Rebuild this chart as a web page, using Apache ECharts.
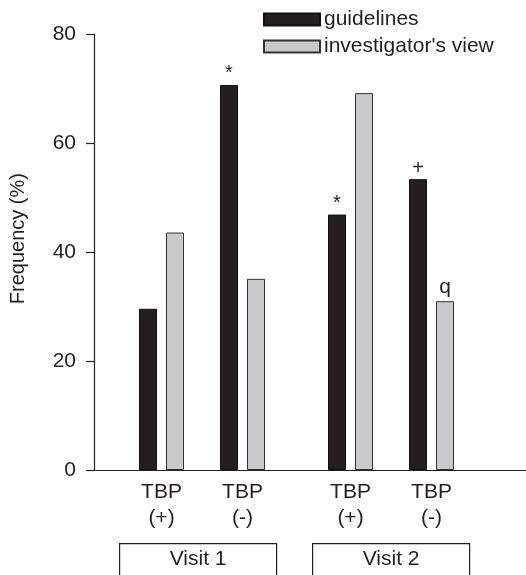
<!DOCTYPE html>
<html>
<head>
<meta charset="utf-8">
<script src="https://cdn.jsdelivr.net/npm/echarts@6/dist/echarts.min.js"></script>
<style>
  html, body { margin: 0; padding: 0; background: #fff; }
  #chart { width: 526px; height: 575px; }
</style>
</head>
<body>
<div id="chart"></div>
<script>
// x slots: blank entries are spacers between the bar pairs
const categories = ['', '', 'TBP\n(+)', '', '', 'TBP\n(-)', '', '', '', 'TBP\n(+)', '', '', 'TBP\n(-)', '', '', ''];
const guidelines = [29.6, 70.7, 46.9, 53.4];
const investigatorView = [43.6, 35.1, 69.2, 31.0];
const guidelineMarks = ['', '*', '*', '+'];
const investigatorMarks = ['', '', '', 'q'];
const visits = ['Visit 1', 'Visit 2'];
const yTicks = [0, 20, 40, 60, 80];

const ink = '#231f20';
const font = 'Liberation Sans, Arial, Helvetica, sans-serif';

// spread the values over the labelled slots
function toSlots(values, marks) {
  let k = 0;
  return categories.map(c => {
    if (!c) return '-';
    const v = { value: values[k], label: { show: !!marks[k], formatter: marks[k] } };
    k++;
    return v;
  });
}

const chart = echarts.init(document.getElementById('chart'));

chart.setOption({
  animation: false,
  textStyle: { fontFamily: font, color: ink },
  grid: { left: 94, right: -3, top: 34.3, bottom: 105, containLabel: false },
  legend: {
    orient: 'vertical',
    left: 263,
    top: 9,
    padding: 0,
    icon: 'rect',
    itemWidth: 56,
    itemHeight: 12,
    itemGap: 6,
    textStyle: { fontSize: 21, color: ink, fontFamily: font, lineHeight: 20, padding: [0, 0, 0, -1] },
    data: ['guidelines', "investigator's view"]
  },
  xAxis: {
    type: 'category',
    data: categories,
    axisLine: { lineStyle: { color: ink, width: 1.2 } },
    axisTick: { show: false },
    axisLabel: { interval: 0, margin: 9, fontSize: 21, lineHeight: 26, color: ink, fontFamily: font }
  },
  yAxis: {
    type: 'value',
    min: yTicks[0],
    max: yTicks[yTicks.length - 1],
    interval: 20,
    name: 'Frequency (%)',
    nameLocation: 'middle',
    nameGap: 66,
    nameTextStyle: { fontSize: 20, color: ink, fontFamily: font, padding: [0, 0, 0, 27] },
    axisLine: { show: true, lineStyle: { color: ink, width: 1.2 } },
    axisTick: { show: true, length: 8, lineStyle: { color: ink, width: 1.2 } },
    axisLabel: { margin: 18, fontSize: 21, color: ink, fontFamily: font },
    splitLine: { show: false }
  },
  series: [
    {
      name: 'guidelines',
      type: 'bar',
      barWidth: 18,
      barGap: '50%',
      data: toSlots(guidelines, guidelineMarks),
      itemStyle: { color: ink, borderColor: '#111', borderWidth: 1 },
      label: { position: 'top', distance: 1, fontSize: 20, color: ink, fontFamily: font }
    },
    {
      name: "investigator's view",
      type: 'bar',
      barWidth: 18,
      data: toSlots(investigatorView, investigatorMarks),
      itemStyle: { color: '#c8c9cb', borderColor: '#333', borderWidth: 1 },
      label: { position: 'top', distance: 3, fontSize: 21, color: ink, fontFamily: font }
    }
  ],
  graphic: visits.map((v, i) => ({
    type: 'group',
    left: [119, 312][i],
    top: 543,
    children: [
      { type: 'rect', shape: { x: 0, y: 0, width: 157, height: 40 }, style: { fill: '#fff', stroke: ink, lineWidth: 1.2 } },
      { type: 'text', x: 78.5, y: 16, style: { text: v, fill: ink, font: '21px ' + font, align: 'center', verticalAlign: 'middle' } }
    ]
  }))
});
</script>
</body>
</html>
